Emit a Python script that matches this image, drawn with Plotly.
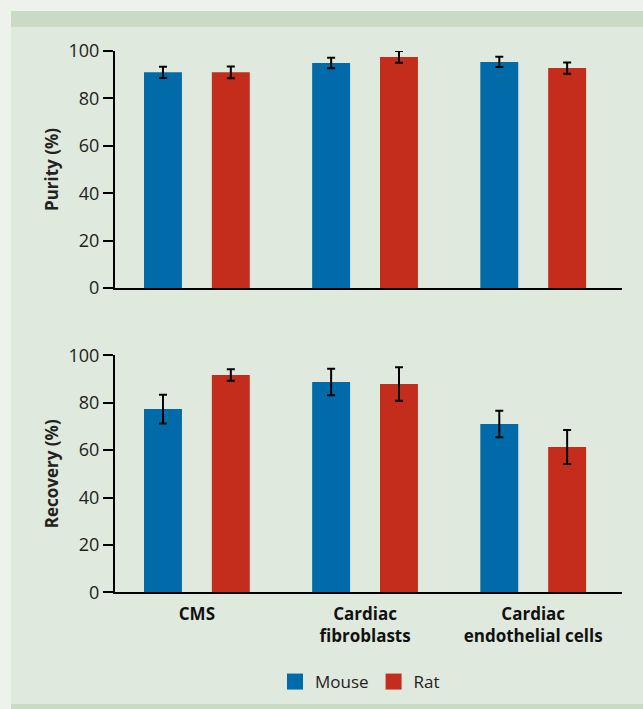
import plotly.graph_objects as go

categories = ["<b>CMS</b>", "<b>Cardiac<br>fibroblasts</b>", "<b>Cardiac<br>endothelial cells</b>"]
purity_mouse = [91.0, 94.9, 95.4]
purity_mouse_err = [2.4, 2.2, 2.2]
purity_rat = [91.0, 97.5, 92.8]
purity_rat_err = [2.5, 2.5, 2.4]
recovery_mouse = [77.3, 88.7, 71.0]
recovery_mouse_err = [6.1, 5.6, 5.6]
recovery_rat = [91.7, 87.9, 61.3]
recovery_rat_err = [2.4, 7.1, 7.2]
series_names = ["Mouse", "Rat"]
y_ticks = [0, 20, 40, 60, 80, 100]

BLUE = "#006ba8"
RED = "#c42d1c"
OUTER = "#edf3ec"
FONT = "Open Sans"
W, H = 643, 709


def px(x):
    return x / W


def py(y):
    return 1 - y / H


fig = go.Figure()


def add_bars(xa, ya, vals_m, err_m, vals_r, err_r):
    for name, vals, err, col in [(series_names[0], vals_m, err_m, BLUE),
                                 (series_names[1], vals_r, err_r, RED)]:
        fig.add_trace(go.Bar(
            x=categories, y=vals, name=name, marker=dict(color=col, line=dict(width=0)),
            error_y=dict(type="data", array=err, color="black", thickness=2, width=4),
            xaxis=xa, yaxis=ya, showlegend=False, cliponaxis=False, hoverinfo="skip"))


add_bars("x", "y", purity_mouse, purity_mouse_err, purity_rat, purity_rat_err)
add_bars("x2", "y2", recovery_mouse, recovery_mouse_err, recovery_rat, recovery_rat_err)

# legend entries
for name, col in [(series_names[0], BLUE), (series_names[1], RED)]:
    fig.add_trace(go.Scatter(x=[None], y=[None], mode="markers", name=name,
                             marker=dict(symbol="square", size=16, color=col),
                             xaxis="x2", yaxis="y2", showlegend=True, hoverinfo="skip"))

xdom = [px(115), px(622)]
xr = [-0.487, 2.528]
tickfont = dict(family=FONT, size=18, color="#222")

common_y = dict(range=[0, 100], tickvals=y_ticks, ticks="outside", ticklen=10, tickwidth=2,
                tickcolor="black", showline=True, linewidth=2, linecolor="black",
                showgrid=False, zeroline=False, tickfont=tickfont, automargin=False)
common_x = dict(type="category", range=xr, domain=xdom, showline=True, linewidth=2,
                linecolor="black", showgrid=False, zeroline=False, automargin=False)

fig.update_layout(
    width=W, height=H,
    margin=dict(l=0, r=0, t=0, b=0, pad=0, autoexpand=False),
    paper_bgcolor=OUTER, plot_bgcolor="rgba(0,0,0,0)",
    barmode="group", bargap=0.193, bargroupgap=0.441,
    font=dict(family=FONT, color="#222"),
    hovermode=False,
    xaxis=dict(**common_x, anchor="y", showticklabels=False, ticks=""),
    yaxis=dict(**common_y, domain=[py(288), py(51)], anchor="x",
               title=dict(text="<b>Purity (%)</b>", font=dict(family=FONT, size=17, color="#222"), standoff=6)),
    xaxis2=dict(**common_x, anchor="y2", ticks="outside", ticklen=5, tickcolor="rgba(0,0,0,0)",
                tickfont=dict(family=FONT, size=17, color="#111")),
    yaxis2=dict(**common_y, domain=[py(592.3), py(355.3)], anchor="x2",
                title=dict(text="<b>Recovery (%)</b>", font=dict(family=FONT, size=17, color="#222"), standoff=6)),
    legend=dict(orientation="h", x=px(360), xanchor="center", y=py(682), yanchor="middle",
                font=dict(family=FONT, size=17, color="#222"), bgcolor="rgba(0,0,0,0)",
                itemclick=False, itemdoubleclick=False, tracegroupgap=0),
    shapes=[
        dict(type="rect", xref="paper", yref="paper", x0=px(11), x1=1, y0=0, y1=py(11),
             fillcolor="#dfe9dd", line=dict(width=0), layer="below"),
        dict(type="rect", xref="paper", yref="paper", x0=px(11), x1=1, y0=py(27), y1=py(11),
             fillcolor="#c9dac5", line=dict(width=0), layer="below"),
        dict(type="rect", xref="paper", yref="paper", x0=px(11), x1=1, y0=0, y1=py(704),
             fillcolor="#c9dac5", line=dict(width=0), layer="below"),
    ],
)

fig.write_html(
    "out.html",
    config={"displayModeBar": False},
    post_script=(
        "document.body.style.margin='0';"
        "document.body.style.overflow='hidden';"
        "document.documentElement.style.overflow='hidden';"
        "document.body.style.background='" + OUTER + "';"
    ),
)
